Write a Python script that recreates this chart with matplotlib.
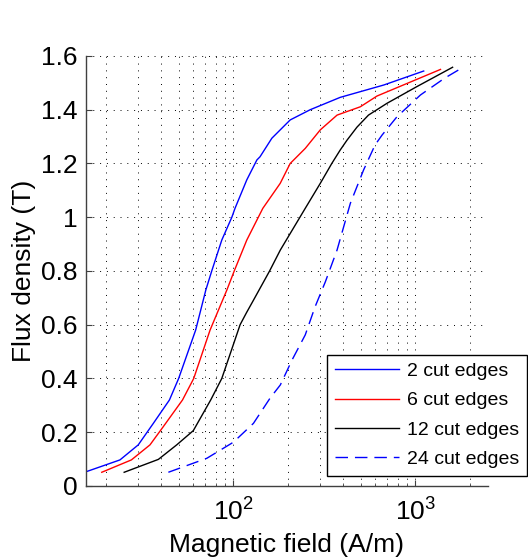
import matplotlib
matplotlib.use("Agg")
import matplotlib.pyplot as plt
from matplotlib.ticker import LogLocator, NullFormatter

plt.rcParams['font.family'] = ['Liberation Sans', 'DejaVu Sans']
plt.rcParams['mathtext.fontset'] = 'custom'
plt.rcParams['mathtext.rm'] = 'Liberation Sans'

# B-H curves (H in A/m, B in T)
h_2 = [15.5, 23.8, 30, 36.3, 44.5, 50, 62, 70.5, 76, 86.3, 98, 102, 118.4, 134.5,
       140, 162.6, 205, 264, 386, 670, 1110]
b_2 = [0.053, 0.097, 0.153, 0.233, 0.32, 0.40, 0.58, 0.729, 0.80, 0.915, 1.0, 1.033,
       1.139, 1.213, 1.225, 1.294, 1.362, 1.40, 1.446, 1.492, 1.544]

h_6 = [18.9, 27.5, 34.8, 41.2, 52.5, 60.5, 74.4, 92, 101, 118.4, 145, 180.7, 205, 248,
       300, 371, 498, 615, 1373]
b_6 = [0.051, 0.097, 0.153, 0.221, 0.32, 0.40, 0.58, 0.729, 0.80, 0.915, 1.033, 1.126,
       1.20, 1.256, 1.325, 1.38, 1.411, 1.451, 1.55]

h_12 = [25.1, 38.7, 48.8, 60.2, 75, 86.3, 100, 108.8, 118, 129, 158, 181, 248, 300, 347,
        386, 421, 477, 552, 698, 1018, 1600]
b_12 = [0.051, 0.099, 0.153, 0.206, 0.32, 0.40, 0.527, 0.60, 0.645, 0.692, 0.80, 0.878,
        1.033, 1.126, 1.20, 1.25, 1.287, 1.335, 1.38, 1.424, 1.486, 1.558]

h_24 = [43.9, 71.4, 100, 128.8, 159, 181, 210, 248, 281, 320, 371, 439, 519, 600, 656,
        792, 1066, 1443, 1848]
b_24 = [0.051, 0.103, 0.163, 0.233, 0.327, 0.376, 0.469, 0.562, 0.667, 0.76, 0.878,
        1.052, 1.176, 1.269, 1.306, 1.374, 1.455, 1.517, 1.56]

fig = plt.figure(figsize=(5.28, 5.57), dpi=100)
ax = fig.add_axes([0.163, 0.1275, 0.761, 0.772])

ax.plot(h_2, b_2, color='blue', lw=1.0, label='2 cut edges')
ax.plot(h_6, b_6, color='red', lw=1.0, label='6 cut edges')
ax.plot(h_12, b_12, color='black', lw=1.0, label='12 cut edges')
ax.plot(h_24, b_24, color='blue', lw=1.0, dashes=(9, 5), label='24 cut edges')

ax.set_xscale('log')
ax.set_xlim(15.5, 2500)
ax.set_ylim(0, 1.6)
ax.set_yticks([0, 0.2, 0.4, 0.6, 0.8, 1, 1.2, 1.4, 1.6])
ax.set_yticklabels(['0', '0.2', '0.4', '0.6', '0.8', '1', '1.2', '1.4', '1.6'])
ax.xaxis.set_major_locator(LogLocator(base=10, numticks=10))
ax.xaxis.set_minor_locator(LogLocator(base=10, subs=range(2, 10), numticks=20))
ax.xaxis.set_minor_formatter(NullFormatter())

for s in ['top', 'right']:
    ax.spines[s].set_visible(False)
for s in ['left', 'bottom']:
    ax.spines[s].set_color('0.25')
    ax.spines[s].set_linewidth(1.0)

ax.tick_params(which='both', direction='in', labelsize=19, colors='0.25',
               labelcolor='black')
ax.tick_params(which='major', length=4)
ax.tick_params(axis='x', which='major', pad=9)
ax.tick_params(axis='y', which='major', pad=6)
ax.tick_params(which='minor', length=2.5)

ax.grid(True, which='major', axis='both', color='black', lw=0.7, linestyle=(0, (1, 6)))
ax.grid(True, which='minor', axis='x', color='black', lw=0.7, linestyle=(0, (1, 6)))

ax.set_xlabel('Magnetic field (A/m)', fontsize=19, labelpad=5)
ax.set_ylabel('Flux density (T)', fontsize=19, labelpad=4)

leg = fig.legend(loc='upper left', bbox_to_anchor=(0.619, 0.363), fontsize=14,
                 fancybox=False, framealpha=1, edgecolor='black', handlelength=3.3,
                 labelspacing=0.6, borderpad=0.4, handletextpad=0.4, borderaxespad=0)
leg.get_frame().set_linewidth(1.0)

fig.savefig('out.png', dpi=100)
